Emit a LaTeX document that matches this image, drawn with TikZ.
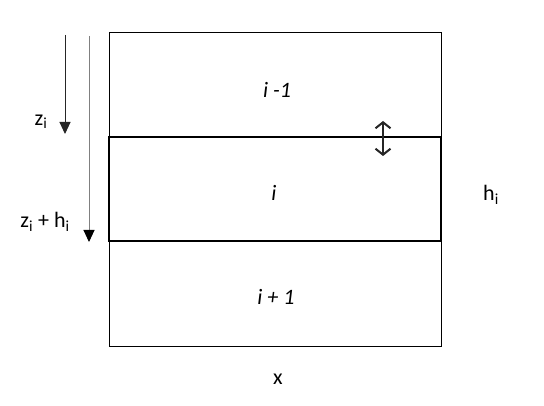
\documentclass[tikz,border=0pt]{standalone}
\usepackage{fontspec}
\setmainfont{Carlito}
\usetikzlibrary{arrows.meta}
\begin{document}
\begin{tikzpicture}[x=1pt,y=-1pt,
  lbl/.style={font=\fontsize{22}{26}\selectfont, inner sep=0pt},
  thin box/.style={draw=black, line width=1pt},
  thick box/.style={draw=black, line width=2.8pt},
  zarrow/.style={line width=1pt, -{Triangle[length=12pt,width=11pt]}},
  darrow/.style={line width=2pt, {Straight Barb[length=6pt,width=15pt]}-{Straight Barb[length=6pt,width=15pt]}}]
\useasboundingbox (0,0) rectangle (544,406);
\fill[white] (0,0) rectangle (544,406);
% outer box
\draw[thin box] (109,33) rectangle (441,347);
% layer i
\draw[thick box] (109,137) rectangle (441,241);
% labels in layers
\node[lbl] (lm) at (277,90) {\textit{i -1}};
\node[lbl] (li) at (274,193) {\textit{i}};
\node[lbl] (lp) at (276,297) {\textit{i + 1}};
\node[lbl] (hi) at (491,195) {h\textsubscript{i}};
\node[lbl] (xl) at (278,379) {x};
\node[lbl] (zi) at (41,122) {z\textsubscript{i}};
\node[lbl] (zh) at (45,222) {z\textsubscript{i} + h\textsubscript{i}};
% depth arrows
\coordinate (a1s) at (65,35);
\coordinate (a1e) at (65,134);
\coordinate (a2s) at (89,36);
\coordinate (a2e) at (89,242);
\draw[zarrow, draw=black!85] (a1s) -- (a1e);
\draw[zarrow, draw=black!50, -{Triangle[length=12pt,width=11pt,fill=black,color=black]}] (a2s) -- (a2e);
% double arrow
\coordinate (d1) at (383,121);
\coordinate (d2) at (383,156);
\draw[darrow, draw=black!85] (d1) -- (d2);
\end{tikzpicture}
\end{document}
